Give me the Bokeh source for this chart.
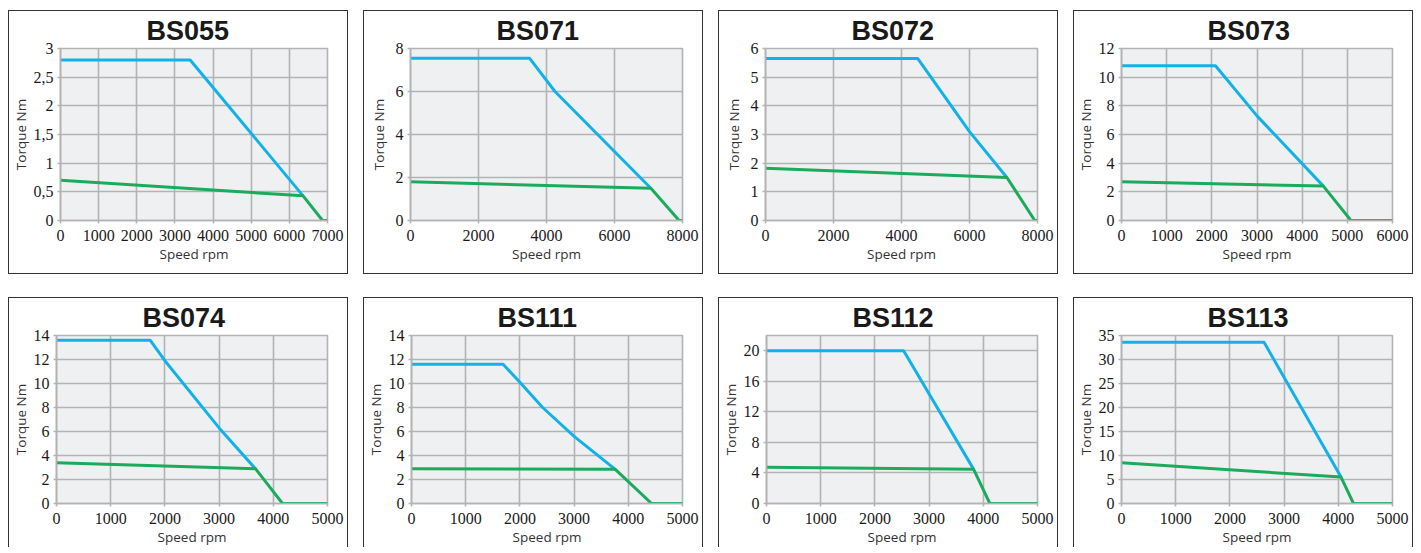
from bokeh.plotting import figure
from bokeh.layouts import row, column
from bokeh.models import FixedTicker, Range1d, Title
from bokeh.embed import file_html
from bokeh.resources import INLINE

# ---------------- data ----------------
titles = ["BS055", "BS071", "BS072", "BS073", "BS074", "BS111", "BS112", "BS113"]

x_max = [7000, 8000, 8000, 6000, 5000, 5000, 5000, 5000]
x_step = [1000, 2000, 2000, 1000, 1000, 1000, 1000, 1000]
y_max = [3, 8, 6, 12, 14, 14, 22, 35]
y_tick_max = [3, 8, 6, 12, 14, 14, 20, 35]
y_step = [0.5, 2, 1, 2, 2, 2, 4, 5]

bs055_max_speed = [0, 3400, 6360]
bs055_max_torque = [2.8, 2.8, 0.43]
bs055_cont_speed = [0, 6360, 6870, 7000]
bs055_cont_torque = [0.70, 0.43, 0, 0]

bs071_max_speed = [0, 3500, 4250, 7070]
bs071_max_torque = [7.55, 7.55, 6.0, 1.5]
bs071_cont_speed = [0, 7070, 7900, 8000]
bs071_cont_torque = [1.8, 1.5, 0, 0]

bs072_max_speed = [0, 4480, 6000, 7100]
bs072_max_torque = [5.65, 5.65, 3.1, 1.5]
bs072_cont_speed = [0, 7100, 7920, 8000]
bs072_cont_torque = [1.82, 1.5, 0, 0]

bs073_max_speed = [0, 2080, 3000, 4470]
bs073_max_torque = [10.8, 10.8, 7.3, 2.4]
bs073_cont_speed = [0, 4470, 5080, 6000]
bs073_cont_torque = [2.7, 2.4, 0, 0]

bs074_max_speed = [0, 1730, 2000, 3000, 3670]
bs074_max_torque = [13.6, 13.6, 11.9, 6.3, 2.9]
bs074_cont_speed = [0, 3670, 4170, 5000]
bs074_cont_torque = [3.4, 2.9, 0, 0]

bs111_max_speed = [0, 1690, 2000, 2420, 3000, 3760]
bs111_max_torque = [11.6, 11.6, 10.1, 8.0, 5.6, 2.85]
bs111_cont_speed = [0, 3760, 4430, 5000]
bs111_cont_torque = [2.9, 2.85, 0, 0]

bs112_max_speed = [0, 2530, 3820]
bs112_max_torque = [20, 20, 4.5]
bs112_cont_speed = [0, 3820, 4120, 5000]
bs112_cont_torque = [4.75, 4.5, 0, 0]

bs113_max_speed = [0, 2630, 4050]
bs113_max_torque = [33.6, 33.6, 5.5]
bs113_cont_speed = [0, 4050, 4280, 5000]
bs113_cont_torque = [8.5, 5.5, 0, 0]

series = [
    (bs055_max_speed, bs055_max_torque, bs055_cont_speed, bs055_cont_torque),
    (bs071_max_speed, bs071_max_torque, bs071_cont_speed, bs071_cont_torque),
    (bs072_max_speed, bs072_max_torque, bs072_cont_speed, bs072_cont_torque),
    (bs073_max_speed, bs073_max_torque, bs073_cont_speed, bs073_cont_torque),
    (bs074_max_speed, bs074_max_torque, bs074_cont_speed, bs074_cont_torque),
    (bs111_max_speed, bs111_max_torque, bs111_cont_speed, bs111_cont_torque),
    (bs112_max_speed, bs112_max_torque, bs112_cont_speed, bs112_cont_torque),
    (bs113_max_speed, bs113_max_torque, bs113_cont_speed, bs113_cont_torque),
]

# ---------------- style ----------------
BLUE = "#12b2e8"
GREEN = "#1aab5c"
GRID = "#b3b3b3"
FRAME_BG = "#eff0f2"
TICK_FONT = "Liberation Sans Narrow"
LABEL_FONT = "Open Sans"


def fmt(v):
    s = ("%g" % v)
    return s.replace(".", ",")


def label_width(s):
    # approximate rendered width of a tick label at 16px in the narrow font
    return sum(3.65 if c == "," else 7.3 for c in s)


def make_panel(i, height, min_bottom, styles):
    p = figure(width=340, height=height, output_backend="svg", toolbar_location=None,
               x_range=Range1d(0, x_max[i]), y_range=Range1d(0, y_max[i]),
               min_border_left=41, min_border_right=22, min_border_top=37,
               min_border_bottom=min_bottom, background_fill_color=FRAME_BG,
               border_fill_color="white", outline_line_color=GRID, outline_line_width=1.6,
               styles=styles)
    xt = list(range(0, x_max[i] + 1, x_step[i]))
    n = int(round(y_tick_max[i] / y_step[i]))
    yt = [round(k * y_step[i], 3) for k in range(n + 1)]
    p.xaxis.ticker = FixedTicker(ticks=xt)
    p.yaxis.ticker = FixedTicker(ticks=yt)
    p.xaxis.major_label_overrides = {float(t): fmt(t) for t in xt}
    p.yaxis.major_label_overrides = {float(t): fmt(t) for t in yt}
    p.xgrid.ticker = FixedTicker(ticks=xt)
    p.ygrid.ticker = FixedTicker(ticks=yt)
    for g in (p.xgrid, p.ygrid):
        g.grid_line_color = GRID
        g.grid_line_width = 1.6
    for ax in (p.xaxis, p.yaxis):
        ax.axis_line_color = GRID
        ax.axis_line_width = 1.6
        ax.major_tick_line_color = GRID
        ax.major_tick_line_width = 1.6
        ax.major_tick_out = 3
        ax.major_tick_in = 0
        ax.minor_tick_line_color = None
        ax.major_label_text_font = TICK_FONT
        ax.major_label_text_font_size = "16px"
        ax.major_label_text_color = "#1a1a1a"
        ax.axis_label_text_font = LABEL_FONT
        ax.axis_label_text_font_size = "13.5px"
        ax.axis_label_text_font_style = "normal"
        ax.axis_label_text_color = "#333333"
    p.xaxis.axis_label = "Speed rpm"
    p.xaxis.major_label_standoff = 6
    p.yaxis.major_label_standoff = 4
    p.xaxis.axis_label_standoff = 1

    widest = max(label_width(fmt(t)) for t in yt)
    ylab = Title(text="Torque Nm", align="center", standoff=max(1.0, 15.6 - widest),
                 text_font=LABEL_FONT, text_font_size="13.5px", text_font_style="normal",
                 text_color="#333333")
    p.add_layout(ylab, "left")

    t = Title(text=titles[i], align="left", offset=86, standoff=5,
              text_font="Liberation Sans", text_font_size="27px",
              text_font_style="bold", text_color="#1a1a1a")
    p.add_layout(t, "above")

    ms, mt, cs, ct = series[i]
    p.line(ms, mt, line_color=BLUE, line_width=3)
    p.line(cs, ct, line_color=GREEN, line_width=3)
    return p


top_styles = {"border": "1px solid #333333", "box-sizing": "border-box"}
bot_styles = {"border": "1px solid #333333", "border-bottom": "none", "box-sizing": "border-box"}

row1 = row([make_panel(i, 264, 55, top_styles) for i in range(4)], spacing=15)
row2 = row([make_panel(i, 250, 41, bot_styles) for i in range(4, 8)], spacing=15)
layout = column([row1, row2], spacing=23, styles={"margin-left": "8px", "margin-top": "10px"})

open("out.html", "w").write(file_html(layout, INLINE))
